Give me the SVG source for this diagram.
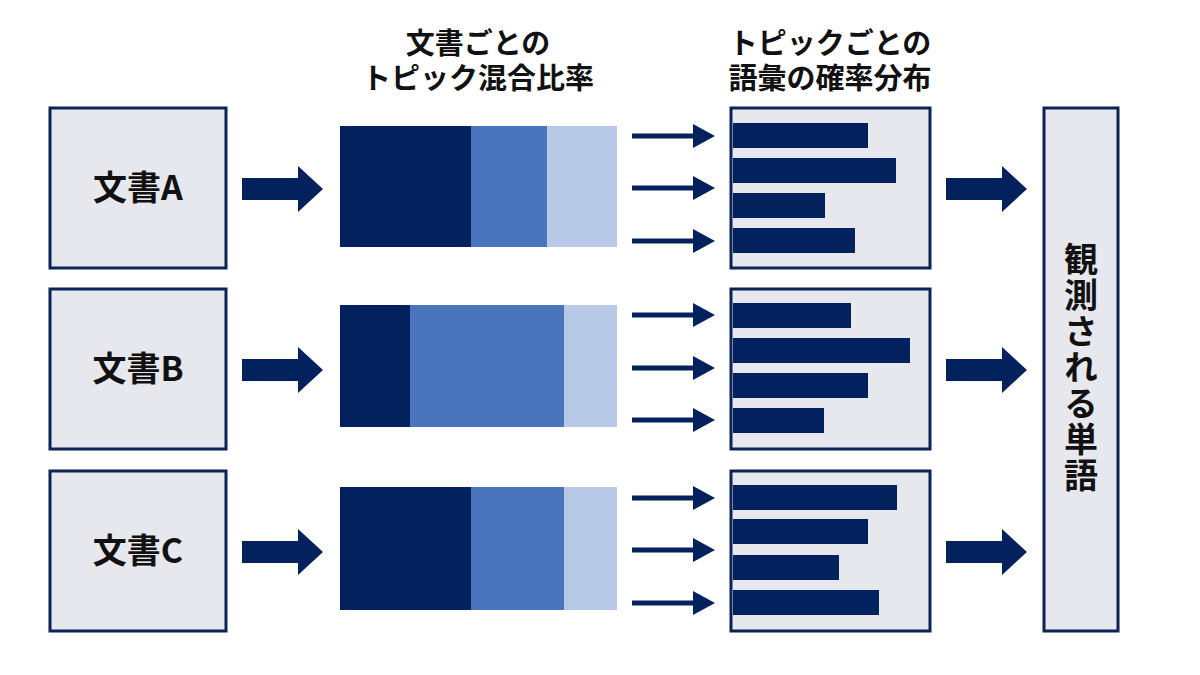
<svg xmlns="http://www.w3.org/2000/svg" width="1200" height="675" viewBox="0 0 1200 675">
<defs>
<style>
.box{fill:#e6e8ee;stroke:#0b2357;stroke-width:3}
.lbl{font-family:"Noto Sans CJK JP","Noto Sans",sans-serif;font-weight:700;fill:#111;text-anchor:middle}
.doc{font-size:34px}
.hdr{font-size:29px}
.vert{writing-mode:vertical-rl;letter-spacing:2px}
.dark{fill:#03215c}
.mid{fill:#4a75bd}
.light{fill:#b8c9e7}
.bar{fill:#03215c}
.arr{fill:#03215c}
</style>
<path id="big" d="M0,-11 H56 V-23 L81,0 L56,23 V11 H0 Z"/>
<path id="small" d="M0,-2.5 H61 V-12 L83,0 L61,12 V2.5 H0 Z"/>
</defs>
<rect width="1200" height="675" fill="#ffffff"/>

<g id="header1">
<text class="lbl hdr"><tspan x="478" y="54">文書ごとの</tspan><tspan x="478" y="89">トピック混合比率</tspan></text>
</g>
<g id="header2">
<text class="lbl hdr"><tspan x="830" y="54">トピックごとの</tspan><tspan x="830" y="89">語彙の確率分布</tspan></text>
</g>

<g id="docA"><rect class="box" x="50" y="108" width="176" height="160"/><text class="lbl doc" x="138" y="200">文書A</text></g>
<g id="docB"><rect class="box" x="50" y="289" width="176" height="160"/><text class="lbl doc" x="138" y="381">文書B</text></g>
<g id="docC"><rect class="box" x="50" y="471" width="176" height="160"/><text class="lbl doc" x="138" y="563">文書C</text></g>

<g id="mixA">
<rect class="dark" x="340" y="126" width="131" height="121"/>
<rect class="mid" x="471" y="126" width="76" height="121"/>
<rect class="light" x="547" y="126" width="70" height="121"/>
</g>
<g id="mixB">
<rect class="dark" x="340" y="305" width="70" height="122"/>
<rect class="mid" x="410" y="305" width="154" height="122"/>
<rect class="light" x="564" y="305" width="53" height="122"/>
</g>
<g id="mixC">
<rect class="dark" x="340" y="487" width="131" height="123"/>
<rect class="mid" x="471" y="487" width="93" height="123"/>
<rect class="light" x="564" y="487" width="53" height="123"/>
</g>

<g id="topicA">
<rect class="box" x="731" y="108" width="199" height="160"/>
<rect class="bar" x="733" y="123" width="135" height="25"/>
<rect class="bar" x="733" y="158" width="163" height="25"/>
<rect class="bar" x="733" y="193" width="92" height="25"/>
<rect class="bar" x="733" y="228" width="122" height="25"/>
</g>
<g id="topicB">
<rect class="box" x="731" y="289" width="199" height="160"/>
<rect class="bar" x="733" y="303" width="118" height="25"/>
<rect class="bar" x="733" y="338" width="177" height="25"/>
<rect class="bar" x="733" y="373" width="135" height="25"/>
<rect class="bar" x="733" y="408" width="91" height="25"/>
</g>
<g id="topicC">
<rect class="box" x="731" y="471" width="199" height="160"/>
<rect class="bar" x="733" y="485" width="164" height="25"/>
<rect class="bar" x="733" y="519" width="135" height="25"/>
<rect class="bar" x="733" y="555" width="106" height="25"/>
<rect class="bar" x="733" y="590" width="146" height="25"/>
</g>

<g id="observed">
<rect class="box" x="1044" y="108" width="74" height="523"/>
<text class="lbl doc vert" x="1081" y="368">観測される単語</text>
</g>

<g id="connectors" class="arr">
<use href="#big" x="242" y="189"/>
<use href="#big" x="242" y="370"/>
<use href="#big" x="242" y="552"/>
<use href="#small" x="632" y="136"/>
<use href="#small" x="632" y="188"/>
<use href="#small" x="632" y="241"/>
<use href="#small" x="632" y="315"/>
<use href="#small" x="632" y="368"/>
<use href="#small" x="632" y="420"/>
<use href="#small" x="632" y="498"/>
<use href="#small" x="632" y="550"/>
<use href="#small" x="632" y="603"/>
<use href="#big" x="946" y="189"/>
<use href="#big" x="946" y="370"/>
<use href="#big" x="946" y="552"/>
</g>
</svg>
